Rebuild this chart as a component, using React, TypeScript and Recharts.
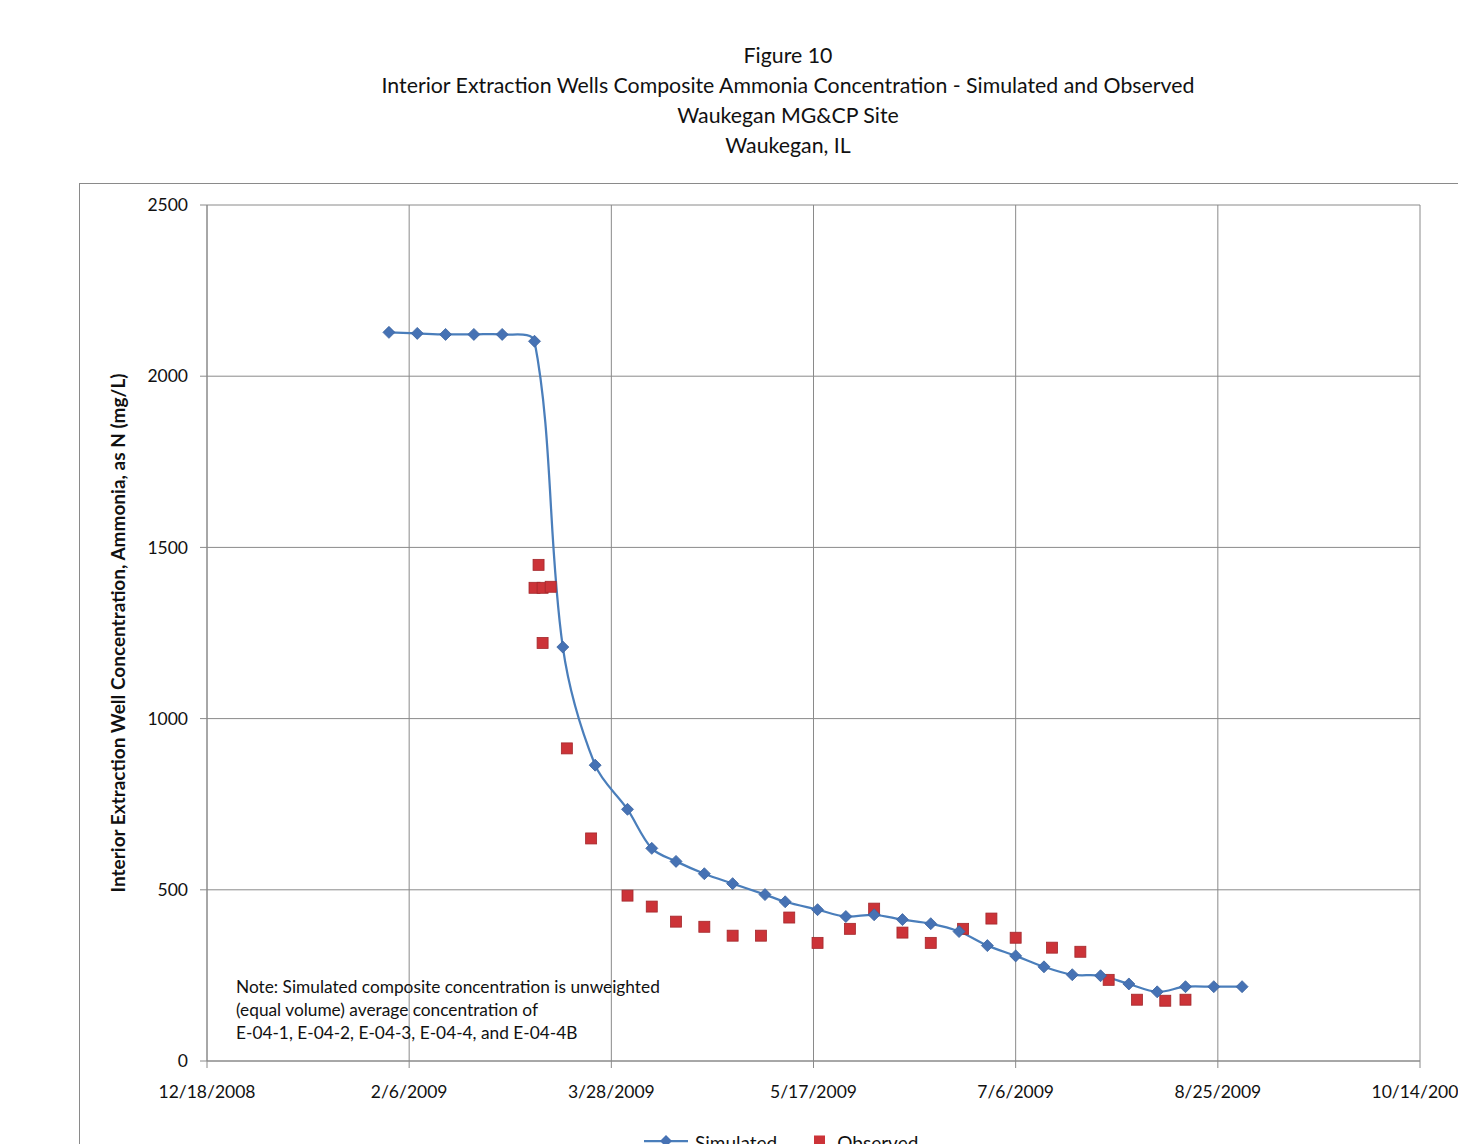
import React from 'react';
import { ComposedChart, Line, Scatter, XAxis, YAxis, CartesianGrid, Legend } from 'recharts';

const titleLines = [
  'Figure 10',
  'Interior Extraction Wells Composite Ammonia Concentration - Simulated and Observed',
  'Waukegan MG&CP Site',
  'Waukegan, IL',
];
const noteLines = [
  'Note: Simulated composite concentration is unweighted',
  '(equal volume) average concentration of',
  'E-04-1, E-04-2, E-04-3, E-04-4, and E-04-4B',
];
const yAxisTitle = 'Interior Extraction Well Concentration, Ammonia, as N (mg/L)';

const simulatedDates = [
  '2009-02-01', '2009-02-08', '2009-02-15', '2009-02-22', '2009-03-01', '2009-03-09',
  '2009-03-16', '2009-03-24', '2009-04-01', '2009-04-07', '2009-04-13', '2009-04-20',
  '2009-04-27', '2009-05-05', '2009-05-10', '2009-05-18', '2009-05-25', '2009-06-01',
  '2009-06-08', '2009-06-15', '2009-06-22', '2009-06-29', '2009-07-06', '2009-07-13',
  '2009-07-20', '2009-07-27', '2009-08-03', '2009-08-10', '2009-08-17', '2009-08-24',
  '2009-08-31',
];
const simulatedValues = [
  2128, 2125, 2122, 2122, 2122, 2102,
  1209, 864, 735, 621, 583, 547,
  518, 486, 465, 442, 422, 427,
  413, 401, 378, 337, 307, 275,
  252, 249, 225, 202, 217, 217,
  217,
];

const observedDates = [
  '2009-03-10', '2009-03-09', '2009-03-11', '2009-03-13', '2009-03-11', '2009-03-17',
  '2009-03-23', '2009-04-01', '2009-04-07', '2009-04-13', '2009-04-20', '2009-04-27',
  '2009-05-04', '2009-05-11', '2009-05-18', '2009-05-26', '2009-06-01', '2009-06-08',
  '2009-06-15', '2009-06-23', '2009-06-30', '2009-07-06', '2009-07-15', '2009-07-22',
  '2009-07-29', '2009-08-05', '2009-08-12', '2009-08-17',
];
const observedValues = [
  1449, 1382, 1382, 1385, 1221, 913,
  650, 483, 451, 407, 392, 366,
  366, 419, 345, 386, 445, 375,
  345, 386, 416, 360, 331, 319,
  237, 179, 176, 179,
];

const xTickDates = ['2008-12-18', '2009-02-06', '2009-03-28', '2009-05-17', '2009-07-06', '2009-08-25', '2009-10-14'];
const yTicks = [0, 500, 1000, 1500, 2000, 2500];

const BASE = Date.UTC(2008, 11, 18);
const DAY = 86400000;
const toDay = (s: string) => {
  const [y, m, d] = s.split('-').map(Number);
  return Math.round((Date.UTC(y, m - 1, d) - BASE) / DAY);
};
const fmtDay = (n: number) => {
  const dt = new Date(BASE + n * DAY);
  return `${dt.getUTCMonth() + 1}/${dt.getUTCDate()}/${dt.getUTCFullYear()}`;
};

const simulatedData = simulatedDates.map((d, i) => ({ t: toDay(d), v: simulatedValues[i] }));
const observedData = observedDates.map((d, i) => ({ t: toDay(d), v: observedValues[i] }));
const xTicks = xTickDates.map(toDay);

const LINE_BLUE = '#4A7EBB';
const DIAMOND_BLUE = '#4672B4';
const OBS_RED = '#CC3338';
const FONT = 'Lato, sans-serif';

// Excel-like smoothed line: chord-length scaled Catmull-Rom through the points
const excelSmooth = (context: any) => {
  let pts: number[][] = [];
  const dist = (a: number[], b: number[]) => Math.hypot(b[0] - a[0], b[1] - a[1]);
  return {
    areaStart() {},
    areaEnd() {},
    lineStart() { pts = []; },
    point(x: number, y: number) { pts.push([+x, +y]); },
    lineEnd() {
      if (!pts.length) return;
      context.moveTo(pts[0][0], pts[0][1]);
      for (let i = 0; i < pts.length - 1; i++) {
        const p0 = pts[i - 1] || pts[i];
        const p1 = pts[i];
        const p2 = pts[i + 1];
        const p3 = pts[i + 2] || p2;
        const d01 = dist(p0, p1);
        const d12 = dist(p1, p2);
        const d23 = dist(p2, p3);
        const k1 = d01 + d12 > 0 ? d12 / (d01 + d12) / 3 : 0;
        const k2 = d12 + d23 > 0 ? d12 / (d12 + d23) / 3 : 0;
        const a1 = i === 0 ? 2 * k1 : k1;
        const a2 = i === pts.length - 2 ? 2 * k2 : k2;
        context.bezierCurveTo(
          p1[0] + (p2[0] - p0[0]) * a1, p1[1] + (p2[1] - p0[1]) * a1,
          p2[0] - (p3[0] - p1[0]) * a2, p2[1] - (p3[1] - p1[1]) * a2,
          p2[0], p2[1]
        );
      }
    },
  };
};

const renderDiamond = (p: any) => {
  const { cx, cy, index } = p;
  if (cx == null || cy == null) return <g key={`dd-${index}`} />;
  const r = 6;
  return (
    <polygon
      key={`d-${index}`}
      points={`${cx},${cy - r} ${cx + r},${cy} ${cx},${cy + r} ${cx - r},${cy}`}
      fill={DIAMOND_BLUE}
      stroke="#3B63A0"
      strokeWidth={0.8}
    />
  );
};

const renderSquare = (p: any) => {
  const { cx, cy } = p;
  return <rect x={cx - 5.5} y={cy - 5.5} width={11} height={11} fill={OBS_RED} stroke="#A3282C" strokeWidth={0.8} />;
};

const legendContent = () => (
  <div style={{ display: 'flex', alignItems: 'flex-start', fontFamily: FONT, fontSize: 19, lineHeight: '24px', color: '#111', whiteSpace: 'nowrap' }}>
    <svg width={48} height={20} style={{ marginRight: 5 }}>
      <line x1={2} y1={10} x2={46} y2={10} stroke={LINE_BLUE} strokeWidth={2.25} />
      <polygon points="24,4 30,10 24,16 18,10" fill={DIAMOND_BLUE} />
    </svg>
    <span style={{ marginRight: 32 }}>Simulated</span>
    <svg width={22} height={20} style={{ marginRight: 6 }}>
      <rect x={5} y={4.5} width={11} height={11} fill={OBS_RED} />
    </svg>
    <span>Observed</span>
  </div>
);

export default function App() {
  return (
    <div style={{ position: 'fixed', left: 0, top: 0, width: 1458, height: 1144, overflow: 'hidden', background: '#fff' }}>
      <div style={{ position: 'absolute', left: 0, top: 40, width: 1576, textAlign: 'center', fontFamily: FONT, fontSize: 21.3, lineHeight: '30px', color: '#111' }}>
        {titleLines.map((t) => (
          <div key={t}>{t}</div>
        ))}
      </div>
      <div style={{ position: 'absolute', left: 79, top: 183, width: 1500, height: 1000, border: '1.5px solid #8a8a8a', boxSizing: 'border-box' }} />
      <div style={{ position: 'absolute', left: 0, top: 0 }}>
        <ComposedChart width={1458} height={1144} margin={{ top: 205, right: 38, bottom: 43, left: 107 }}>
          <CartesianGrid stroke="#8a8a8a" strokeWidth={1} />
          <XAxis
            dataKey="t"
            type="number"
            domain={[0, 300]}
            ticks={xTicks}
            tickFormatter={fmtDay}
            height={40}
            interval={0}
            tickSize={7}
            tickMargin={18}
            axisLine={{ stroke: '#8a8a8a' }}
            tickLine={{ stroke: '#8a8a8a' }}
            tick={{ fill: '#111', fontSize: 17.5, fontFamily: FONT }}
            allowDuplicatedCategory={false}
          />
          <YAxis
            dataKey="v"
            type="number"
            domain={[0, 2500]}
            ticks={yTicks}
            width={100}
            interval={0}
            tickSize={7}
            tickMargin={12}
            axisLine={{ stroke: '#8a8a8a' }}
            tickLine={{ stroke: '#8a8a8a' }}
            tick={{ fill: '#111', fontSize: 17.5, fontFamily: FONT }}
            label={{
              value: yAxisTitle,
              angle: -90,
              position: 'insideLeft',
              offset: 11,
              style: { textAnchor: 'middle', fontSize: 19, fontWeight: 700, fontFamily: FONT, fill: '#111' },
            }}
          />
          <Line
            data={simulatedData}
            dataKey="v"
            name="Simulated"
            type={excelSmooth as any}
            stroke={LINE_BLUE}
            strokeWidth={2.25}
            dot={renderDiamond}
            activeDot={false}
            isAnimationActive={false}
          />
          <Scatter
            data={observedData}
            dataKey="v"
            name="Observed"
            shape={renderSquare}
            isAnimationActive={false}
          />
          <Legend
            layout="horizontal"
            verticalAlign="middle"
            align="center"
            content={legendContent}
            wrapperStyle={{ left: 642, top: 1131, width: 360, height: 24 }}
          />
        </ComposedChart>
      </div>
      <div style={{ position: 'absolute', left: 236, top: 975, fontFamily: FONT, fontSize: 17.3, lineHeight: '23px', color: '#111' }}>
        {noteLines.map((t) => (
          <div key={t}>{t}</div>
        ))}
      </div>
    </div>
  );
}
